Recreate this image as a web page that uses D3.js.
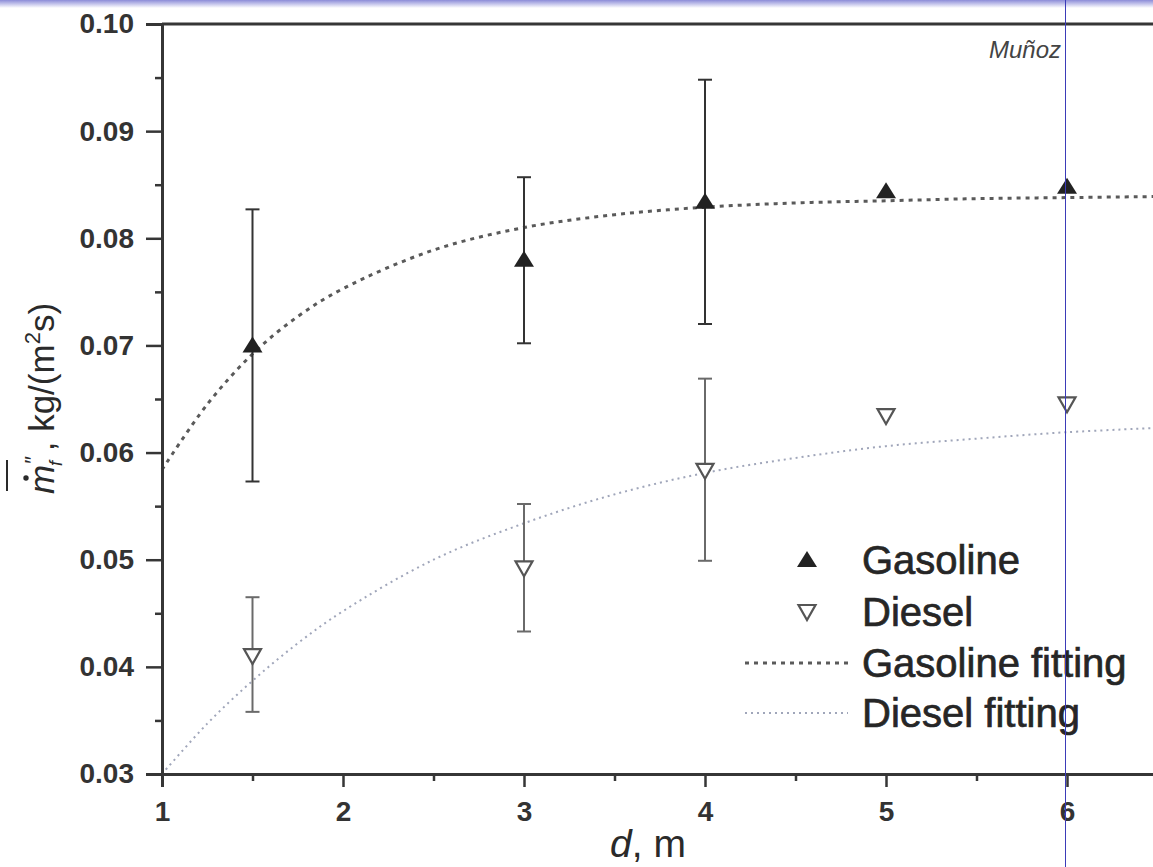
<!DOCTYPE html>
<html>
<head>
<meta charset="utf-8">
<script src="https://cdn.jsdelivr.net/npm/d3@7"></script>
<style>
  html, body { margin: 0; padding: 0; background: #ffffff; }
  svg { display: block; }
  text { font-family: "Liberation Sans", Arial, sans-serif; }
</style>
</head>
<body>
<svg id="chart" width="1153" height="867"></svg>
<script>
// ---------- data ----------
const distances = [1.5, 3, 4, 5, 6];
const gasoline = [0.0700, 0.0780, 0.0834, 0.0844, 0.0848];
const gasolineErrHigh = [0.0827, 0.0857, 0.0948, null, null];
const gasolineErrLow  = [0.0573, 0.0702, 0.0720, null, null];
const diesel = [0.0410, 0.0492, 0.0583, 0.0634, 0.0645];
const dieselErrHigh = [0.0465, 0.0552, 0.0669, null, null];
const dieselErrLow  = [0.0358, 0.0433, 0.0499, null, null];

const fitX = [1, 1.25, 1.5, 1.75, 2, 2.5, 3, 3.5, 4, 4.5, 5, 5.5, 6, 6.5];
const gasolineFit = [0.0584, 0.0645, 0.0692, 0.0727, 0.0753, 0.0789, 0.0810, 0.0822, 0.0829, 0.0833, 0.0835, 0.0837, 0.0838, 0.0839];
const dieselFit   = [0.0300, 0.0347, 0.0387, 0.0422, 0.0452, 0.0500, 0.0534, 0.0561, 0.0581, 0.0595, 0.0606, 0.0613, 0.0619, 0.0623];

const xMajorTicks = [1, 2, 3, 4, 5, 6];
const xMinorTicks = [1.5, 2.5, 3.5, 4.5, 5.5, 6.5];
const yMajorTicks = [0.03, 0.04, 0.05, 0.06, 0.07, 0.08, 0.09, 0.10];
const yMinorTicks = [0.035, 0.045, 0.055, 0.065, 0.075, 0.085, 0.095];
const legendLabels = ["Gasoline", "Diesel", "Gasoline fitting", "Diesel fitting"];

// ---------- scales ----------
const svg = d3.select("#chart");
const x = d3.scaleLinear().domain([1, 6.5]).range([162, 162 + 5.5 * 181]);
const y = d3.scaleLinear().domain([0.03, 0.10]).range([774, 24]);

const axisColor = "#363636";

// top scan strip
const defs = svg.append("defs");
const grad = defs.append("linearGradient").attr("id", "strip").attr("x1", 0).attr("x2", 0).attr("y1", 0).attr("y2", 1);
grad.append("stop").attr("offset", "0%").attr("stop-color", "#8c8cd8");
grad.append("stop").attr("offset", "100%").attr("stop-color", "#ffffff");
svg.append("rect").attr("x", 0).attr("y", 0).attr("width", 1153).attr("height", 8).attr("fill", "url(#strip)");

// ---------- fitting curves ----------
const line = d3.line().x(d => x(d[0])).y(d => y(d[1])).curve(d3.curveCatmullRom.alpha(0.5));
svg.append("path")
  .datum(fitX.map((v, i) => [v, dieselFit[i]]))
  .attr("d", line).attr("fill", "none")
  .attr("stroke", "#a0a6ba").attr("stroke-width", 2).attr("stroke-dasharray", "2,4");
svg.append("path")
  .datum(fitX.map((v, i) => [v, gasolineFit[i]]))
  .attr("d", line).attr("fill", "none")
  .attr("stroke", "#5a5a5a").attr("stroke-width", 3).attr("stroke-dasharray", "4,5");

// ---------- error bars ----------
function errorBars(hi, lo, color) {
  const g = svg.append("g").attr("stroke", color).attr("stroke-width", 2).attr("fill", "none");
  distances.forEach((d, i) => {
    if (hi[i] == null) return;
    g.append("line").attr("x1", x(d)).attr("x2", x(d)).attr("y1", y(hi[i])).attr("y2", y(lo[i]));
    g.append("line").attr("x1", x(d) - 7).attr("x2", x(d) + 7).attr("y1", y(hi[i])).attr("y2", y(hi[i]));
    g.append("line").attr("x1", x(d) - 7).attr("x2", x(d) + 7).attr("y1", y(lo[i])).attr("y2", y(lo[i]));
  });
}
errorBars(gasolineErrHigh, gasolineErrLow, "#333333");
errorBars(dieselErrHigh, dieselErrLow, "#6a6a6a");

// ---------- markers ----------
function upTri(cx, cy) { return `M${cx},${cy - 9} L${cx + 10},${cy + 7} L${cx - 10},${cy + 7} Z`; }
function downTri(cx, cy) { return `M${cx - 8.5},${cy - 7} L${cx + 8.5},${cy - 7} L${cx},${cy + 8} Z`; }

svg.append("g").selectAll("path").data(distances).join("path")
  .attr("d", (d, i) => upTri(x(d), y(gasoline[i])))
  .attr("fill", "#222222");
svg.append("g").selectAll("path").data(distances).join("path")
  .attr("d", (d, i) => downTri(x(d), y(diesel[i])))
  .attr("fill", "#ffffff").attr("stroke", "#555555").attr("stroke-width", 2.2).attr("stroke-linejoin", "miter");

// ---------- axes ----------
const xAxis = svg.append("g").attr("transform", `translate(0,${y(0.03)})`)
  .call(d3.axisBottom(x).tickValues(xMajorTicks).tickFormat(d3.format("d")).tickSize(13).tickPadding(14));
const xAxisMinor = svg.append("g").attr("transform", `translate(0,${y(0.03)})`)
  .call(d3.axisBottom(x).tickValues(xMinorTicks).tickFormat("").tickSize(7));
const yAxis = svg.append("g").attr("transform", `translate(${x(1)},0)`)
  .call(d3.axisLeft(y).tickValues(yMajorTicks).tickFormat(d3.format(".2f")).tickSize(16).tickPadding(12));
const yAxisMinor = svg.append("g").attr("transform", `translate(${x(1)},0)`)
  .call(d3.axisLeft(y).tickValues(yMinorTicks).tickFormat("").tickSize(7));

[xAxis, xAxisMinor, yAxis, yAxisMinor].forEach(a => {
  a.select(".domain").attr("stroke", axisColor).attr("stroke-width", 3);
  a.selectAll(".tick line").attr("stroke", axisColor).attr("stroke-width", 2.5);
  a.selectAll(".tick text").attr("fill", "#333333").attr("font-size", 28).attr("font-weight", "bold")
    .attr("font-family", "'Liberation Sans', Arial, sans-serif");
});
xAxisMinor.select(".domain").remove();
yAxisMinor.select(".domain").remove();

// top frame line
svg.append("line").attr("x1", x(1)).attr("x2", x(6.5)).attr("y1", y(0.10)).attr("y2", y(0.10))
  .attr("stroke", axisColor).attr("stroke-width", 3);

// ---------- axis titles ----------
svg.append("text").attr("x", 648).attr("y", 857).attr("text-anchor", "middle")
  .attr("font-size", 39).attr("fill", "#2a2a2a")
  .call(t => {
    t.append("tspan").attr("font-style", "italic").text("d");
    t.append("tspan").text(", m");
  });

const yl = svg.append("g").attr("transform", "translate(54,494) rotate(-90)");
const ylt = yl.append("text").attr("x", 0).attr("y", 0).attr("font-size", 35).attr("fill", "#2a2a2a");
ylt.append("tspan").attr("font-style", "italic").text("m");
ylt.append("tspan").attr("font-size", 22).attr("dx", 1).attr("dy", -14).text("″");
ylt.append("tspan").attr("font-size", 18).attr("font-style", "italic").attr("dx", -10).attr("dy", 22).text("f");
ylt.append("tspan").attr("dy", -8).text(" ,  kg/(m");
ylt.append("tspan").attr("font-size", 22).attr("dy", -14).text("2");
ylt.append("tspan").attr("dy", 14).text("s)");
yl.append("circle").attr("cx", 16).attr("cy", -28).attr("r", 2.7).attr("fill", "#2a2a2a");
yl.append("line").attr("x1", 3).attr("x2", 34).attr("y1", -47).attr("y2", -47)
  .attr("stroke", "#2a2a2a").attr("stroke-width", 2);

// ---------- legend ----------
const lg = svg.append("g");
const legendY = [560, 612, 663, 713];
const legendX0 = 745, legendX1 = 848, textX = 862, symX = 807;
lg.append("path").attr("d", upTri(symX, legendY[0])).attr("fill", "#222222");
lg.append("path").attr("d", downTri(symX, legendY[1]))
  .attr("fill", "#ffffff").attr("stroke", "#555555").attr("stroke-width", 2.2);
lg.append("line").attr("x1", legendX0).attr("x2", legendX1).attr("y1", legendY[2]).attr("y2", legendY[2])
  .attr("stroke", "#5a5a5a").attr("stroke-width", 3).attr("stroke-dasharray", "4,5");
lg.append("line").attr("x1", legendX0).attr("x2", legendX1).attr("y1", legendY[3]).attr("y2", legendY[3])
  .attr("stroke", "#a0a6ba").attr("stroke-width", 2).attr("stroke-dasharray", "2,4");
lg.selectAll("text.leg").data(legendLabels).join("text").attr("class", "leg")
  .attr("x", textX).attr("y", (d, i) => legendY[i] + 14)
  .attr("font-size", 40).attr("fill", "#262626")
  .attr("stroke", "#262626").attr("stroke-width", 0.7).text(d => d);

// ---------- annotations / scan artefacts ----------
svg.append("text").attr("x", 1061).attr("y", 58).attr("text-anchor", "end")
  .attr("font-family", "'Open Sans', sans-serif").attr("font-style", "italic")
  .attr("font-size", 24).attr("fill", "#444444").text("Muñoz");
svg.append("line").attr("x1", 1065.5).attr("x2", 1065.5).attr("y1", 0).attr("y2", 867)
  .attr("stroke", "#3b3bb8").attr("stroke-width", 1);
</script>
</body>
</html>
